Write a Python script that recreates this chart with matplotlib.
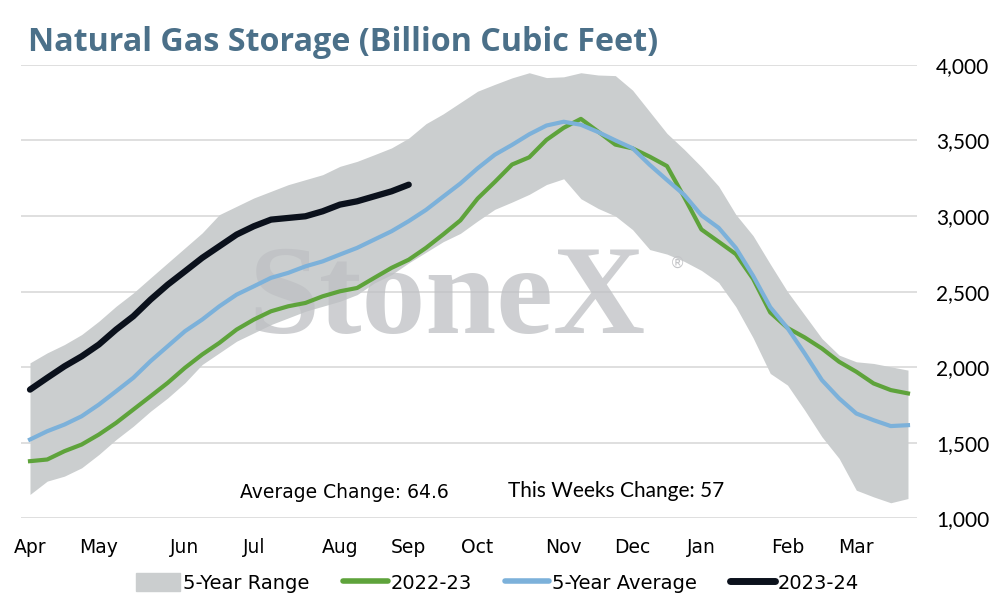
import matplotlib.pyplot as plt
from matplotlib.patches import Patch
from matplotlib.lines import Line2D
import numpy as np

plt.rcParams['font.family'] = ['DejaVu Sans']

# weekly storage, week 0 = first week of April
weeks = np.arange(52)

range_high = [2029, 2095, 2150, 2216, 2304, 2403, 2491, 2591, 2690, 2789, 2888, 3009, 3064,
              3119, 3163, 3207, 3240, 3273, 3328, 3361, 3405, 3450, 3515, 3610, 3675, 3750,
              3825, 3870, 3913, 3947, 3915, 3920, 3947, 3932, 3928, 3832, 3689, 3546, 3440,
              3325, 3197, 3010, 2870, 2682, 2500, 2345, 2190, 2080, 2036, 2025, 2003, 1981]
range_low = [1159, 1247, 1280, 1335, 1423, 1522, 1610, 1709, 1797, 1897, 2018, 2095, 2172,
             2227, 2282, 2326, 2370, 2403, 2436, 2480, 2557, 2612, 2690, 2760, 2830, 2885,
             2967, 3044, 3092, 3143, 3208, 3246, 3114, 3050, 3000, 2910, 2778, 2748, 2700,
             2640, 2560, 2400, 2195, 1959, 1882, 1716, 1540, 1397, 1187, 1143, 1104, 1132]
avg_5yr = [1522, 1577, 1621, 1676, 1753, 1841, 1930, 2040, 2139, 2238, 2315, 2403, 2480,
           2535, 2591, 2624, 2667, 2700, 2745, 2789, 2844, 2899, 2966, 3040, 3128, 3215,
           3315, 3405, 3470, 3540, 3598, 3623, 3603, 3555, 3500, 3448, 3338, 3238, 3140,
           3005, 2922, 2789, 2605, 2397, 2259, 2091, 1915, 1794, 1694, 1650, 1611, 1617]
y2022_23 = [1379, 1390, 1445, 1489, 1555, 1632, 1720, 1808, 1897, 1996, 2084, 2161, 2249,
            2315, 2370, 2403, 2425, 2469, 2502, 2524, 2591, 2657, 2711, 2789, 2878, 2971,
            3115, 3225, 3340, 3388, 3503, 3583, 3642, 3558, 3472, 3447, 3392, 3330, 3125,
            2911, 2830, 2748, 2585, 2362, 2260, 2197, 2124, 2036, 1970, 1893, 1849, 1827]
y2023_24 = [1852, 1930, 2006, 2072, 2150, 2249, 2337, 2447, 2546, 2634, 2723, 2800, 2877,
            2932, 2976, 2987, 2998, 3031, 3075, 3097, 3130, 3163, 3207]

month_labels = ['Apr', 'May', 'Jun', 'Jul', 'Aug', 'Sep', 'Oct', 'Nov', 'Dec', 'Jan', 'Feb', 'Mar']
month_weeks = [0, 4, 9, 13, 18, 22, 26, 31, 35, 39, 44, 48]

c_range = '#cbcecf'
c_green = '#5ea33b'
c_blue = '#7cb1da'
c_black = '#0b111c'

fig = plt.figure(figsize=(9.95, 6.06), dpi=100)
ax = fig.add_axes([0.0215, 0.1444, 0.8997, 0.7488])

ax.fill_between(weeks, range_low, range_high, color=c_range, lw=0, zorder=1)
# watermark
ax.text(24.2, 2226, 'StoneX', fontsize=92, family='Liberation Serif', weight='bold',
        color='#bec0c3', alpha=0.75, ha='center', va='baseline', zorder=2)
ax.text(37.6, 2690, '®', fontsize=11, color='#c4c5c8',
        ha='center', va='center', zorder=2)

ax.plot(weeks, y2022_23, color=c_green, lw=3, zorder=3)
ax.plot(weeks, avg_5yr, color=c_blue, lw=3, zorder=4)
ax.plot(weeks[:len(y2023_24)], y2023_24, color=c_black, lw=4.5, solid_capstyle='round', zorder=5)

ax.set_xlim(-0.5, 51.5)
ax.set_ylim(1000, 4000)
ax.set_yticks(range(1000, 4001, 500))
ax.set_yticklabels([f'{v:,}' for v in range(1000, 4001, 500)], family=['Lato', 'DejaVu Sans'])
ax.yaxis.tick_right()
ax.grid(axis='y', color='#d9d9d9', lw=1.2, zorder=0)
ax.set_axisbelow(True)
ax.set_xticks(month_weeks)
ax.set_xticklabels(month_labels)
ax.tick_params(axis='x', length=0, pad=14, labelsize=13.5)
ax.tick_params(axis='y', length=0, pad=14, labelsize=15)
for s in ax.spines.values():
    s.set_visible(False)

fig.text(0.028, 0.93, 'Natural Gas Storage (Billion Cubic Feet)', fontsize=23.2,
         weight='bold', color='#4b7089', va='center', family=['Open Sans', 'DejaVu Sans'])
fig.text(0.241, 0.188, 'Average Change: 64.6', fontsize=13.5, va='center')
fig.text(0.511, 0.19, 'This Weeks Change: 57', fontsize=15, va='center',
         family=['Lato', 'DejaVu Sans'])

handles = [Patch(color=c_range),
           Line2D([], [], color=c_green, lw=4, solid_capstyle='round'),
           Line2D([], [], color=c_blue, lw=4, solid_capstyle='round'),
           Line2D([], [], color=c_black, lw=5, solid_capstyle='round')]
labels = ['5-Year Range', '2022-23', '5-Year Average', '2023-24']
fig.legend(handles, labels, loc='center', bbox_to_anchor=(0.5, 0.038), ncol=4,
           frameon=False, fontsize=14, handlelength=2.3, handleheight=1.0,
           handletextpad=0.15, columnspacing=1.7)

fig.savefig('out.png', dpi=100)
